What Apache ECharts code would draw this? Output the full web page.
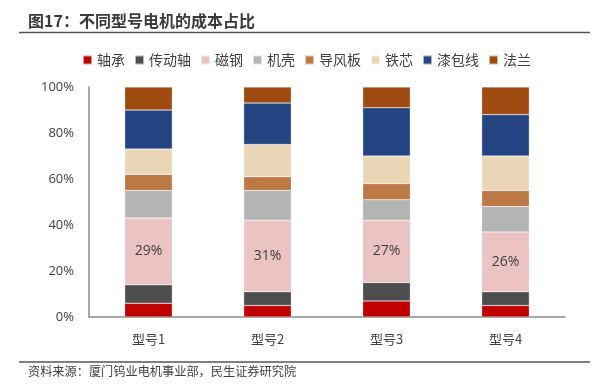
<!DOCTYPE html>
<html><head><meta charset="utf-8">
<script src="https://cdn.jsdelivr.net/npm/echarts@6/dist/echarts.min.js"></script>
<style>html,body{margin:0;padding:0;background:#fff}#c{width:609px;height:384px}</style>
</head><body><div id="c"></div>
<script>
var categories = ['型号1','型号2','型号3','型号4'];
var seriesNames = ['轴承','传动轴','磁钢','机壳','导风板','铁芯','漆包线','法兰'];
var bearing = [6,5,7,5];
var shaft = [8,6,8,6];
var magnet = [29,31,27,26];
var housing = [12,13,9,11];
var airGuide = [7,6,7,7];
var core = [11,14,12,15];
var wire = [17,18,21,18];
var flange = [10,7,9,12];
var yTicks = ['0%','20%','40%','60%','80%','100%'];
var colors = ['#C00000','#4D4D4F','#EBC3C3','#B4B4B4','#BC7845','#E8D6B6','#234480','#9E4A10'];
var allData = [bearing,shaft,magnet,housing,airGuide,core,wire,flange];
var font = '"Noto Sans CJK SC", "Noto Sans", sans-serif';
var numFont = '"Open Sans", "Noto Sans CJK SC", sans-serif';
var series = seriesNames.map(function(n,i){
  return {
    name:n, type:'bar', stack:'total', barWidth:'40%',
    data: allData[i],
    itemStyle:{color:colors[i], borderColor:'rgba(255,255,255,0.6)', borderWidth:0.5},
    label: i===2 ? {show:true, position:'inside', formatter:'{c}%', color:'#404040', fontSize:14, fontFamily:numFont} : {show:false}
  };
});
var chart = echarts.init(document.getElementById('c'));
chart.setOption({
  animation:false,
  textStyle:{fontFamily:font},
  legend:{
    data:seriesNames, left:77, top:48, itemWidth:9, itemHeight:9, itemGap:9,
    icon:'rect', textStyle:{fontSize:14, color:'#404040', fontFamily:font}
  },
  grid:{left:89, right:44, top:87, bottom:67, containLabel:false},
  xAxis:{
    type:'category', data:categories,
    axisLine:{lineStyle:{color:'#8c8c8c', width:1.5}},
    axisTick:{show:false},
    axisLabel:{fontSize:13, color:'#404040', margin:16, fontFamily:font}
  },
  yAxis:{
    type:'value', min:0, max:100, interval:20,
    axisLine:{show:true, lineStyle:{color:'#8c8c8c', width:1.5}},
    axisTick:{show:false},
    splitLine:{show:false},
    axisLabel:{fontSize:13, color:'#404040', margin:15, fontFamily:numFont,
      formatter:function(v){return yTicks[Math.round(v/20)];}}
  },
  graphic:[
    {type:'text', left:28, top:13, style:{text:'图17：不同型号电机的成本占比', font:'bold 16px '+font, fill:'#3a3a3a'}},
    {type:'line', shape:{x1:19,y1:32.5,x2:590,y2:32.5}, style:{stroke:'#555',lineWidth:1.5}},
    {type:'line', shape:{x1:19,y1:362,x2:590,y2:362}, style:{stroke:'#555',lineWidth:1.5}},
    {type:'text', left:28, top:365, style:{text:'资料来源：厦门钨业电机事业部，民生证券研究院', font:'12.2px '+font, fill:'#404040'}}
  ],
  series:series
});
</script></body></html>
